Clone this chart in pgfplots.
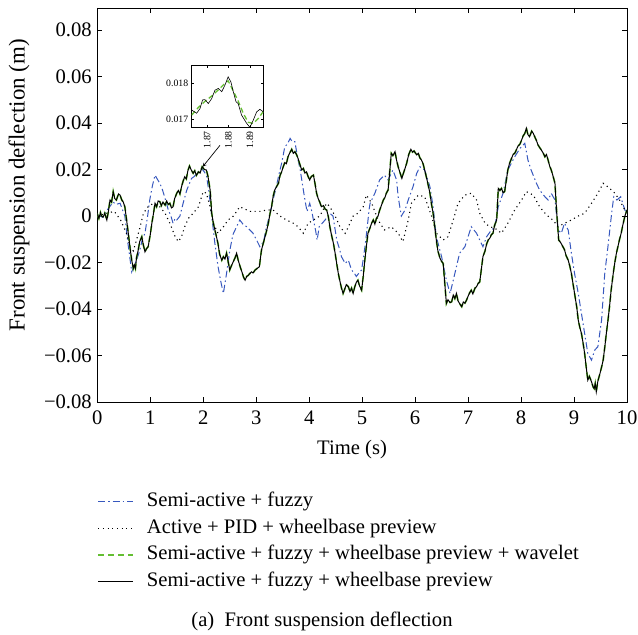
\documentclass[border=0pt]{standalone}
\usepackage{fontspec}
\setmainfont{Liberation Serif}
\usepackage{pgfplots}
\usepackage{pgfplotstable}
\pgfplotsset{compat=1.18}
\definecolor{fzblue}{RGB}{55,88,190}
\definecolor{wvgreen}{RGB}{100,190,50}

\pgfplotstableread{
t v
0.00 0.0010
0.03 -0.0010
0.06 0.0015
0.08 0.0000
0.11 -0.0005
0.14 0.0012
0.18 -0.0017
0.21 0.0020
0.24 0.0069
0.27 0.0060
0.30 0.0105
0.33 0.0075
0.36 0.0069
0.40 0.0095
0.43 0.0090
0.46 0.0070
0.49 0.0060
0.52 0.0040
0.555 -0.0020
0.585 -0.0074
0.62 -0.0140
0.65 -0.0190
0.68 -0.0225
0.70 -0.0210
0.72 -0.0225
0.74 -0.0180
0.77 -0.0150
0.80 -0.0110
0.84 -0.0089
0.87 -0.0125
0.90 -0.0154
0.93 -0.0140
0.96 -0.0132
1.00 -0.0080
1.03 -0.0031
1.06 0.0010
1.09 0.0055
1.12 0.0040
1.15 0.0065
1.18 0.0062
1.21 0.0045
1.24 0.0060
1.28 0.0047
1.31 0.0065
1.34 0.0050
1.37 0.0055
1.40 0.0035
1.43 0.0040
1.46 0.0075
1.50 0.0098
1.53 0.0110
1.56 0.0095
1.59 0.0126
1.62 0.0150
1.65 0.0169
1.68 0.0160
1.71 0.0195
1.74 0.0215
1.77 0.0200
1.81 0.0184
1.84 0.0195
1.87 0.0175
1.91 0.0190
1.94 0.0185
1.98 0.0212
2.02 0.0200
2.06 0.0198
2.09 0.0170
2.13 0.0112
2.16 0.0012
2.19 -0.0030
2.22 -0.0060
2.25 -0.0089
2.28 -0.0120
2.31 -0.0165
2.35 -0.0190
2.38 -0.0175
2.41 -0.0185
2.44 -0.0160
2.47 -0.0195
2.50 -0.0232
2.53 -0.0215
2.56 -0.0200
2.60 -0.0180
2.63 -0.0160
2.66 -0.0190
2.70 -0.0220
2.73 -0.0240
2.76 -0.0262
2.79 -0.0276
2.82 -0.0260
2.85 -0.0255
2.88 -0.0247
2.91 -0.0240
2.94 -0.0245
2.98 -0.0232
3.02 -0.0225
3.06 -0.0218
3.08 -0.0180
3.10 -0.0146
3.13 -0.0120
3.16 -0.0095
3.20 -0.0060
3.23 -0.0030
3.26 0.0010
3.29 0.0040
3.32 0.0085
3.35 0.0112
3.38 0.0125
3.42 0.0141
3.45 0.0175
3.48 0.0190
3.51 0.0212
3.54 0.0230
3.57 0.0225
3.60 0.0255
3.63 0.0270
3.67 0.0287
3.70 0.0270
3.73 0.0277
3.76 0.0265
3.79 0.0248
3.82 0.0225
3.86 0.0198
3.89 0.0205
3.92 0.0185
3.95 0.0190
3.98 0.0170
4.01 0.0155
4.04 0.0170
4.08 0.0176
4.11 0.0140
4.14 0.0098
4.17 0.0075
4.20 0.0060
4.23 0.0040
4.27 0.0045
4.30 0.0030
4.33 0.0026
4.36 0.0000
4.39 -0.0046
4.42 -0.0080
4.46 -0.0120
4.49 -0.0160
4.52 -0.0205
4.55 -0.0247
4.58 -0.0280
4.61 -0.0310
4.64 -0.0333
4.67 -0.0315
4.70 -0.0295
4.74 -0.0304
4.77 -0.0325
4.80 -0.0310
4.83 -0.0333
4.86 -0.0305
4.89 -0.0285
4.92 -0.0276
4.95 -0.0300
4.99 -0.0319
5.02 -0.0260
5.05 -0.0190
5.08 -0.0130
5.11 -0.0074
5.15 -0.0050
5.18 -0.0030
5.21 -0.0017
5.24 -0.0035
5.27 -0.0010
5.30 0.0000
5.33 0.0025
5.37 0.0050
5.40 0.0069
5.43 0.0080
5.46 0.0100
5.49 0.0112
5.52 0.0190
5.55 0.0270
5.58 0.0260
5.62 0.0277
5.65 0.0240
5.68 0.0212
5.71 0.0190
5.75 0.0162
5.78 0.0185
5.81 0.0205
5.84 0.0227
5.88 0.0265
5.92 0.0287
5.95 0.0275
5.98 0.0280
6.03 0.0263
6.06 0.0270
6.09 0.0250
6.12 0.0241
6.15 0.0225
6.18 0.0198
6.21 0.0170
6.24 0.0140
6.28 0.0098
6.31 0.0050
6.34 0.0012
6.37 -0.0045
6.40 -0.0103
6.43 -0.0150
6.47 -0.0182
6.50 -0.0195
6.53 -0.0204
6.56 -0.0290
6.59 -0.0376
6.62 -0.0360
6.66 -0.0372
6.69 -0.0369
6.72 -0.0340
6.75 -0.0355
6.78 -0.0333
6.81 -0.0365
6.85 -0.0380
6.88 -0.0390
6.91 -0.0370
6.94 -0.0375
6.97 -0.0362
7.00 -0.0345
7.03 -0.0330
7.06 -0.0319
7.09 -0.0335
7.13 -0.0310
7.16 -0.0304
7.19 -0.0290
7.22 -0.0283
7.25 -0.0230
7.28 -0.0175
7.32 -0.0150
7.35 -0.0120
7.38 -0.0103
7.41 -0.0095
7.44 -0.0080
7.47 -0.0074
7.50 -0.0040
7.54 -0.0017
7.57 0.0119
7.60 0.0110
7.63 0.0119
7.66 0.0100
7.69 0.0105
7.72 0.0150
7.75 0.0198
7.78 0.0225
7.82 0.0248
7.85 0.0265
7.88 0.0270
7.91 0.0284
7.94 0.0300
7.98 0.0310
8.01 0.0327
8.04 0.0345
8.07 0.0355
8.10 0.0378
8.13 0.0350
8.16 0.0341
8.20 0.0365
8.23 0.0356
8.26 0.0340
8.29 0.0325
8.32 0.0306
8.35 0.0295
8.38 0.0285
8.42 0.0270
8.45 0.0255
8.48 0.0265
8.51 0.0241
8.54 0.0215
8.57 0.0198
8.60 0.0175
8.64 0.0141
8.67 0.0026
8.71 -0.0103
8.75 -0.0115
8.79 -0.0132
8.82 -0.0145
8.85 -0.0170
8.89 -0.0190
8.92 -0.0215
8.95 -0.0247
8.98 -0.0290
9.01 -0.0333
9.05 -0.0390
9.08 -0.0448
9.11 -0.0480
9.14 -0.0505
9.17 -0.0545
9.20 -0.0591
9.23 -0.0650
9.26 -0.0706
9.29 -0.0690
9.33 -0.0713
9.36 -0.0735
9.38 -0.0742
9.40 -0.0720
9.42 -0.0756
9.45 -0.0710
9.49 -0.0677
9.52 -0.0650
9.55 -0.0620
9.58 -0.0565
9.61 -0.0505
9.64 -0.0450
9.67 -0.0390
9.70 -0.0320
9.74 -0.0247
9.77 -0.0200
9.80 -0.0160
9.83 -0.0130
9.86 -0.0100
9.89 -0.0074
9.92 -0.0040
9.96 0.0000
10.00 0.0026
}\preview

\pgfplotstableread{
t v
0.00 0.0005
0.10 -0.0005
0.20 0.0030
0.30 0.0060
0.35 0.0050
0.43 0.0055
0.52 0.0000
0.58 -0.0120
0.65 -0.0240
0.70 -0.0210
0.74 -0.0190
0.80 -0.0150
0.85 -0.0100
0.90 -0.0074
0.95 0.0000
0.99 0.0069
1.04 0.0130
1.09 0.0176
1.13 0.0160
1.18 0.0141
1.22 0.0120
1.25 0.0098
1.30 0.0060
1.34 0.0026
1.39 0.0000
1.43 -0.0031
1.47 -0.0010
1.50 -0.0017
1.56 0.0000
1.62 0.0055
1.69 0.0112
1.74 0.0140
1.78 0.0162
1.83 0.0170
1.88 0.0184
1.93 0.0195
1.97 0.0205
2.02 0.0190
2.06 0.0176
2.11 0.0100
2.16 0.0000
2.22 -0.0118
2.28 -0.0218
2.33 -0.0280
2.38 -0.0333
2.41 -0.0290
2.44 -0.0247
2.50 -0.0150
2.56 -0.0080
2.63 -0.0046
2.69 -0.0017
2.75 -0.0035
2.82 -0.0046
2.88 -0.0060
2.94 -0.0074
3.00 -0.0100
3.07 -0.0132
3.14 -0.0110
3.18 -0.0060
3.23 -0.0017
3.29 0.0040
3.34 0.0090
3.38 0.0126
3.43 0.0180
3.48 0.0227
3.54 0.0298
3.59 0.0310
3.64 0.0334
3.68 0.0320
3.73 0.0320
3.76 0.0280
3.79 0.0241
3.83 0.0200
3.86 0.0155
3.92 0.0069
3.96 0.0019
4.01 0.0055
4.05 0.0020
4.08 -0.0017
4.12 -0.0060
4.15 -0.0103
4.19 -0.0046
4.25 -0.0030
4.30 -0.0017
4.39 0.0012
4.45 0.0000
4.52 -0.0103
4.57 -0.0140
4.61 -0.0175
4.68 -0.0204
4.74 -0.0190
4.80 -0.0232
4.85 -0.0245
4.89 -0.0260
4.94 -0.0245
4.99 -0.0232
5.03 -0.0170
5.06 -0.0120
5.10 -0.0040
5.13 0.0026
5.15 0.0055
5.24 0.0098
5.33 0.0155
5.42 0.0176
5.49 0.0155
5.58 0.0198
5.65 0.0155
5.68 0.0083
5.74 0.0000
5.81 0.0026
5.87 0.0069
5.96 0.0126
6.03 0.0184
6.09 0.0212
6.18 0.0198
6.28 0.0126
6.34 0.0040
6.40 -0.0089
6.50 -0.0175
6.59 -0.0276
6.66 -0.0333
6.72 -0.0276
6.78 -0.0218
6.84 -0.0160
6.94 -0.0132
7.00 -0.0089
7.06 -0.0046
7.16 -0.0074
7.22 -0.0103
7.28 -0.0132
7.35 -0.0089
7.44 -0.0060
7.50 -0.0050
7.57 0.0040
7.66 0.0098
7.75 0.0198
7.88 0.0255
7.98 0.0291
8.07 0.0313
8.13 0.0241
8.19 0.0198
8.29 0.0141
8.35 0.0112
8.45 0.0083
8.51 0.0069
8.57 0.0098
8.64 0.0069
8.70 -0.0060
8.76 -0.0074
8.82 -0.0031
8.89 -0.0060
8.95 -0.0160
9.01 -0.0247
9.08 -0.0333
9.14 -0.0419
9.20 -0.0505
9.26 -0.0591
9.33 -0.0620
9.39 -0.0577
9.45 -0.0562
9.52 -0.0448
9.58 -0.0247
9.64 -0.0132
9.71 0.0012
9.75 0.0083
9.81 0.0069
9.88 0.0083
9.96 0.0026
10.00 0.0010
}\fuzzy

\pgfplotstableread{
t v
0.00 0.0000
0.18 0.0012
0.32 0.0020
0.44 -0.0017
0.55 -0.0074
0.62 -0.0132
0.68 -0.0150
0.74 -0.0103
0.81 -0.0046
0.87 0.0012
0.96 0.0040
1.06 0.0055
1.18 0.0040
1.28 0.0012
1.37 -0.0031
1.47 -0.0089
1.53 -0.0110
1.59 -0.0089
1.65 -0.0046
1.72 -0.0010
1.81 0.0012
1.91 0.0040
2.00 0.0105
2.06 0.0098
2.13 0.0040
2.19 -0.0031
2.28 -0.0074
2.38 -0.0046
2.47 -0.0017
2.57 0.0000
2.69 0.0040
2.88 0.0020
3.07 0.0020
3.20 0.0026
3.32 0.0026
3.45 0.0000
3.57 -0.0017
3.70 -0.0031
3.79 -0.0046
3.89 -0.0074
3.98 -0.0031
4.08 -0.0017
4.20 0.0000
4.33 0.0055
4.39 0.0040
4.49 0.0000
4.58 -0.0046
4.68 -0.0074
4.74 -0.0046
4.83 0.0000
4.92 0.0012
5.02 0.0040
5.08 0.0090
5.18 0.0055
5.30 -0.0017
5.42 -0.0060
5.55 -0.0046
5.68 -0.0074
5.77 -0.0110
5.87 -0.0017
5.93 0.0055
6.06 0.0090
6.18 0.0083
6.31 0.0000
6.40 -0.0074
6.53 -0.0103
6.62 -0.0089
6.72 -0.0017
6.81 0.0055
6.94 0.0090
7.06 0.0098
7.16 0.0069
7.22 0.0012
7.32 -0.0031
7.41 -0.0046
7.51 -0.0053
7.63 -0.0074
7.75 -0.0031
7.88 0.0026
8.01 0.0069
8.10 0.0105
8.23 0.0090
8.35 0.0040
8.48 0.0005
8.60 -0.0017
8.70 -0.0046
8.82 -0.0031
8.95 -0.0017
9.08 0.0000
9.20 0.0012
9.33 0.0055
9.45 0.0098
9.55 0.0141
9.67 0.0120
9.77 0.0098
9.86 0.0069
9.96 0.0026
10.00 0.0010
}\pid

\begin{document}
\begin{tikzpicture}[font=\fontsize{20.7}{24}\selectfont]
\begin{axis}[
  name=main, at={(0,0)}, anchor=south west,
  scale only axis, width=529.7bp, height=394bp,
  xmin=0, xmax=10, ymin=-0.08, ymax=0.0895,
  scaled x ticks=false, scaled y ticks=false,
  xtick={0,1,2,3,4,5,6,7,8,9,10},
  xticklabels={0,1,2,3,4,5,6,7,8,9,10},
  ytick={-0.08,-0.06,-0.04,-0.02,0,0.02,0.04,0.06,0.08},
  yticklabels={−0.08,−0.06,−0.04,−0.02,0,0.02,0.04,0.06,0.08},
  tick align=inside, major tick length=5bp,
  axis line style={line width=0.8bp},
  every tick/.style={black, line width=0.6bp},
  tick label style={font=\fontsize{20.7}{24}\selectfont},
  yticklabel style={xshift=-2bp},
  xticklabel style={yshift=-5bp},
  xlabel={Time (s)},
  ylabel={\fontsize{23}{27}\selectfont Front suspension deflection (m)},
  every axis x label/.style={at={(axis description cs:0.481,-0.1218)}, anchor=center},
  every axis y label/.style={at={(axis description cs:-0.1478,0.55)}, rotate=90, anchor=center},
  legend cell align=left,
  legend image code/.code={\draw[#1] (0bp,0bp) -- (35bp,0bp);},
  legend style={draw=none, fill=none, at={(0,-0.2284)}, anchor=north west,
    inner sep=0pt, outer sep=0pt, row sep=7bp,
    nodes={inner sep=0pt, text height=15bp, text depth=4.5bp},
    /tikz/every odd column/.append style={column sep=13bp},
    font=\fontsize{20.7}{24}\selectfont},
]
\addplot[fzblue, line width=1bp, dash pattern=on 7bp off 3bp on 1.5bp off 3bp] table[x=t,y=v] {\fuzzy};
\addlegendentry{Semi-active + fuzzy}
\addplot[black, line width=1.1bp, dash pattern=on 1.1bp off 3.6bp] table[x=t,y=v] {\pid};
\addlegendentry{Active + PID + wheelbase preview}
\addplot[wvgreen, line width=1.7bp, dash pattern=on 6bp off 4bp] table[x=t,y=v] {\preview};
\addlegendentry{Semi-active + fuzzy + wheelbase preview + wavelet}
\addplot[black, line width=1bp] table[x=t,y=v] {\preview};
\addlegendentry{Semi-active + fuzzy + wheelbase preview}
\draw[black, line width=0.7bp, -stealth] (axis cs:2.315,0.0304) -- (axis cs:1.99,0.0212);
\end{axis}

\begin{axis}[
  at={(94.4bp,274.3bp)}, anchor=south west,
  scale only axis, width=71.6bp, height=62bp,
  xmin=1.8627, xmax=1.8963, ymin=0.01677, ymax=0.01849,
  scaled x ticks=false, scaled y ticks=false,
  xtick={1.87,1.88,1.89}, xticklabels={1.87,1.88,1.89},
  ytick={0.017,0.018}, yticklabels={0.017,0.018},
  tick align=inside, major tick length=2.5bp,
  axis line style={line width=0.8bp},
  every tick/.style={black, line width=0.5bp},
  x tick label style={rotate=90, anchor=east, font=\fontsize{9.8}{11}\selectfont},
  y tick label style={font=\fontsize{9.8}{11}\selectfont},
  axis background/.style={fill=white},
]
\addplot[wvgreen, line width=1.3bp, dash pattern=on 5bp off 3bp] coordinates {
(1.8627,0.01712) (1.8658,0.01733) (1.8689,0.01750) (1.8721,0.01765) (1.8752,0.01782)
(1.8783,0.01800) (1.8798,0.01807) (1.8822,0.01779) (1.8845,0.01751) (1.8869,0.01717)
(1.8892,0.01692) (1.8916,0.01689) (1.8940,0.01703) (1.8963,0.01722)};
\addplot[black, line width=0.6bp] coordinates {
(1.8627,0.01726) (1.8650,0.01717) (1.8666,0.01730) (1.8678,0.01754) (1.8689,0.01755)
(1.8705,0.01744) (1.8721,0.01758) (1.8736,0.01781) (1.8752,0.01786) (1.8768,0.01777)
(1.8783,0.01795) (1.8798,0.01818) (1.8811,0.01804) (1.8822,0.01777) (1.8835,0.01749)
(1.8845,0.01744) (1.8861,0.01712) (1.8885,0.01689) (1.8900,0.01678) (1.8916,0.01698)
(1.8932,0.01721) (1.8947,0.01728) (1.8963,0.01721)};
\end{axis}

\node[anchor=center] at (224.7bp,-219bp) {(a)\enspace Front suspension deflection};
\pgfresetboundingbox
\path[use as bounding box] (-97.3bp,-233bp) rectangle (540.7bp,402bp);
\end{tikzpicture}
\end{document}
